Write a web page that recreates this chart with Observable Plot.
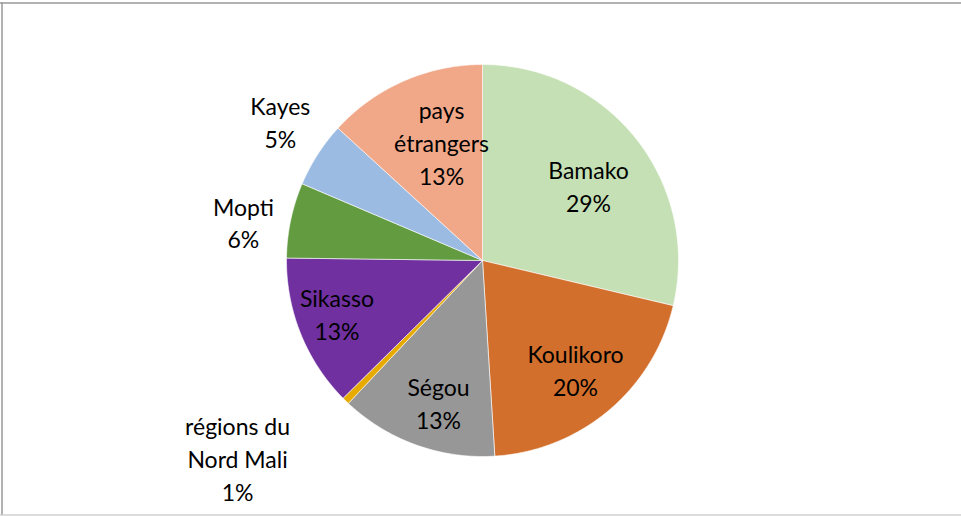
<!DOCTYPE html>
<html>
<head>
<meta charset="utf-8">
<script src="https://cdn.jsdelivr.net/npm/d3@7"></script>
<script src="https://cdn.jsdelivr.net/npm/@observablehq/plot@0.6"></script>
<style>
  html, body { margin: 0; padding: 0; background: #ffffff; }
  #chart svg { display: block; }
</style>
</head>
<body>
<div id="chart"></div>
<script>
// ---- data, clockwise from 12 o'clock ----
const regions = ["Bamako", "Koulikoro", "Ségou", "régions du Nord Mali", "Sikasso", "Mopti", "Kayes", "pays étrangers"];
const shares  = [28.7, 20.3, 13.0, 0.6, 12.6, 6.2, 5.4, 13.2];
const labelLines = ["Bamako", "Koulikoro", "Ségou", "régions du\nNord Mali", "Sikasso", "Mopti", "Kayes", "pays\nétrangers"];
const colors  = ["#C5E0B4", "#D26F2C", "#979797", "#E6AA00", "#7030A0", "#639B41", "#9BBBE2", "#F1A889"];

// ---- layout (pixel-unit scales centred on the pie) ----
const W = 961, H = 516;
const cx = 482, cy = 260, R = 196;
// label placement: [radius factor, angle shift in degrees] relative to slice mid-angle
const placement = {
  "Bamako": [0.663, 3],
  "Koulikoro": [0.73, -0.4],
  "Ségou": [0.755, -2.5],
  "régions du Nord Mali": [1.604, 6.9],
  "Sikasso": [0.79, 2],
  "Mopti": [1.236, -2.6],
  "Kayes": [1.254, 1.9],
  "pays étrangers": [0.643, 4.8]
};

const total = d3.sum(shares);
let acc = 0;
const slices = regions.map((name, i) => {
  const a0 = acc / total * 2 * Math.PI;
  acc += shares[i];
  const a1 = acc / total * 2 * Math.PI;
  return {name, value: shares[i], a0, a1, color: colors[i], label: labelLines[i]};
});

function wedge(s) {
  const pts = [{x: 0, y: 0}];
  const n = Math.max(4, Math.ceil((s.a1 - s.a0) / (Math.PI / 360)));
  for (let k = 0; k <= n; k++) {
    const a = s.a0 + (s.a1 - s.a0) * k / n;
    pts.push({x: R * Math.sin(a), y: R * Math.cos(a)});
  }
  pts.push({x: 0, y: 0});
  return pts;
}

const labels = slices.map(s => {
  const [f, d] = placement[s.name];
  const a = (s.a0 + s.a1) / 2 + d * Math.PI / 180;
  return {
    x: f * R * Math.sin(a),
    y: f * R * Math.cos(a),
    text: s.label + "\n" + Math.round(s.value / total * 100) + "%"
  };
});

const xMin = -cx, xMax = W - cx, yMin = -(H - cy), yMax = cy;

const chart = Plot.plot({
  width: W,
  height: H,
  margin: 0,
  x: {domain: [xMin, xMax], axis: null},
  y: {domain: [yMin, yMax], axis: null},
  style: {background: "#ffffff", fontFamily: "Lato, 'Open Sans', sans-serif"},
  marks: [
    ...slices.map(s => Plot.line(wedge(s), {
      x: "x", y: "y", fill: s.color, stroke: "#ffffff", strokeWidth: 0.6, strokeLinejoin: "round"
    })),
    Plot.text(labels, {
      x: "x", y: "y", text: "text",
      fontSize: 23, lineHeight: 1.43, fill: "#000000", textAnchor: "middle"
    }),
    // chart-area border (open on the right, as cropped in the original)
    Plot.ruleY([yMin + 1.5], {stroke: "#d0d0d0", strokeWidth: 1.5}),
    Plot.ruleY([yMax - 2.5], {stroke: "#999999", strokeWidth: 1.5}),
    Plot.ruleX([xMin + 1.5], {y1: yMin + 1.5, y2: yMax - 2.5, stroke: "#999999", strokeWidth: 1.5})
  ]
});

document.getElementById("chart").appendChild(chart);
</script>
</body>
</html>
